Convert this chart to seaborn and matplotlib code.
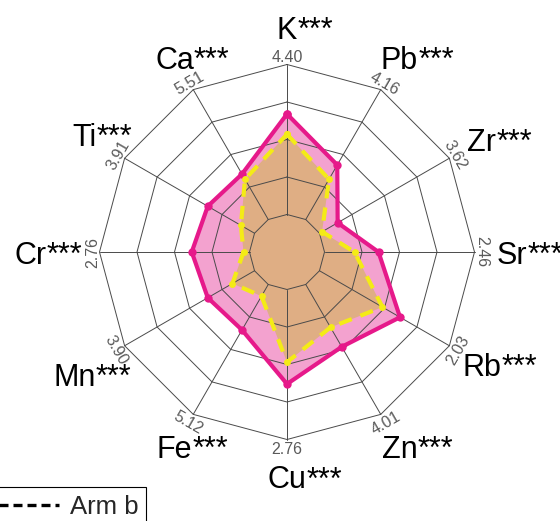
import numpy as np
import pandas as pd
import matplotlib
matplotlib.use("Agg")
import matplotlib.pyplot as plt
from matplotlib.lines import Line2D
import seaborn as sns

# Elements around the radar, clockwise from the top
elements = ["K", "Pb", "Zr", "Sr", "Rb", "Zn", "Cu", "Fe", "Mn", "Cr", "Ti", "Ca"]
significance = ["***"] * 12
# Value printed at the outer ring of each axis
axis_max = ["4.40", "4.16", "3.62", "2.46", "2.03", "4.01",
            "2.76", "5.12", "3.90", "2.76", "3.91", "5.51"]
# Min-max scaled concentrations (0 = inner ring, 1 = outer ring)
arm_a = [0.67, 0.42, 0.14, 0.36, 0.62, 0.48, 0.63, 0.35, 0.36, 0.385, 0.36, 0.35]
arm_b = [0.535, 0.31, 0.02, 0.20, 0.485, 0.33, 0.485, 0.09, 0.17, 0.04, 0.105, 0.31]
# Radial distance of each element name (outer ring = 1)
label_radius = [1.2, 1.2, 1.2, 1.2, 1.2, 1.2, 1.2, 1.2, 1.31, 1.37, 1.25, 1.2]

sns.set_theme(style="white")
plt.rcParams["font.family"] = ["Liberation Sans", "DejaVu Sans"]

W, H, DPI = 560, 521, 100
R_PX = 187.5
CX, CY = 287.0, 252.0          # centre in pixels from top-left
INNER = 0.2                    # radius of the innermost ring
N_SEG = 4

n = len(elements)
theta = np.arange(n) * 2 * np.pi / n

fig = plt.figure(figsize=(W / DPI, H / DPI), dpi=DPI)
ax = fig.add_axes([0, 0, 1, 1])
ax.set_xlim(-CX / R_PX, (W - CX) / R_PX)
ax.set_ylim(-(H - CY) / R_PX, CY / R_PX)
ax.set_axis_off()


def to_xy(values):
    r = INNER + (1 - INNER) * np.asarray(values, dtype=float)
    x = r * np.sin(theta)
    y = r * np.cos(theta)
    return np.append(x, x[0]), np.append(y, y[0])


pink_line = "#e6198a"
pink_fill = "#f3a2cf"
tan_fill = "#dfae84"
yellow = "#f4eb16"
grid_col = "#4a4a4a"

xa, ya = to_xy(arm_a)
xb, yb = to_xy(arm_b)

# filled areas
ax.fill(xa, ya, color=pink_fill, lw=0, zorder=1)
ax.fill(xb, yb, color=tan_fill, lw=0, zorder=1.5)

# polygonal grid: rings and spokes
for k in range(N_SEG + 1):
    rr = INNER + (1 - INNER) * k / N_SEG
    gx = rr * np.sin(np.append(theta, theta[0]))
    gy = rr * np.cos(np.append(theta, theta[0]))
    ax.plot(gx, gy, color=grid_col, lw=0.7, zorder=2)
for t in theta:
    ax.plot([INNER * np.sin(t), np.sin(t)], [INNER * np.cos(t), np.cos(t)],
            color=grid_col, lw=0.7, zorder=2)

# series outlines
df_a = pd.DataFrame({"x": xa, "y": ya})
df_b = pd.DataFrame({"x": xb, "y": yb})
sns.lineplot(data=df_a, x="x", y="y", sort=False, estimator=None, ax=ax,
             color=pink_line, lw=3.0, marker="o", markersize=6,
             markeredgewidth=0, zorder=4, legend=False)
sns.lineplot(data=df_b, x="x", y="y", sort=False, estimator=None, ax=ax,
             color=yellow, lw=3.0, linestyle=(0, (3.2, 2.2)), marker="o",
             markersize=5, markeredgewidth=0, zorder=5, legend=False)

# axis maximum labels, tangent to the outer ring
for t, txt in zip(theta, axis_max):
    deg = np.degrees(t)
    rot = 180 - deg if 90 < deg < 270 else -deg
    rr = 1.045
    ax.text(rr * np.sin(t), rr * np.cos(t), txt, rotation=rot,
            rotation_mode="anchor", ha="center", va="center_baseline",
            fontsize=11.5, color="#5a5a5a", zorder=6)

# element names with significance stars
for t, name, sig, lr in zip(theta, elements, significance, label_radius):
    nm = ax.text(lr * np.sin(t), lr * np.cos(t), name, ha="center",
                 va="center_baseline", fontsize=22, color="black", zorder=6)
    ax.annotate(sig, xy=(1.0, 0.0), xycoords=nm, ha="left", va="bottom",
                fontsize=22, color="black", zorder=6)

handles = [Line2D([], [], color="black", lw=2.4),
           Line2D([], [], color="black", lw=2.4, linestyle=(0, (2.7, 1.5)))]
leg = fig.legend(handles, ["Arm a", "Arm b"], ncol=2, loc="upper right",
                 bbox_to_anchor=(146 / W, 1 - 487 / H), borderaxespad=0,
                 fontsize=18.5, frameon=True, fancybox=False, shadow=False,
                 framealpha=1, edgecolor="black", borderpad=0.3,
                 handlelength=3.0, handletextpad=0.4, columnspacing=1.0)
leg.get_frame().set_linewidth(0.8)

fig.savefig("out.png", dpi=DPI)
